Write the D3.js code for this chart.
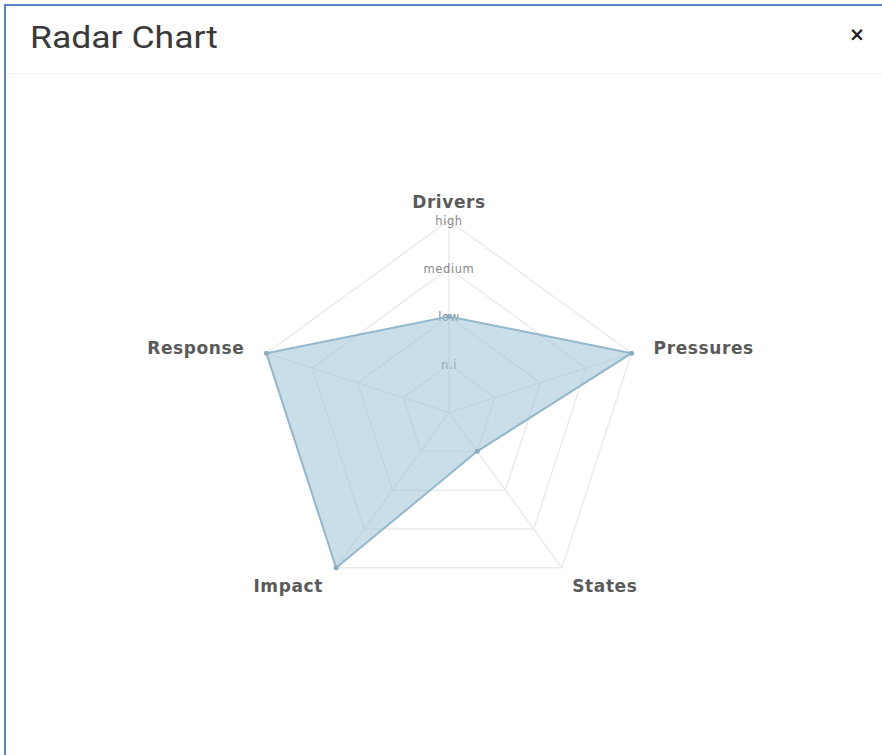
<!DOCTYPE html>
<html>
<head>
<meta charset="utf-8">
<script src="https://cdn.jsdelivr.net/npm/d3@7"></script>
<style>
  html, body { margin: 0; padding: 0; background: #fff; }
  svg { display: block; }
</style>
</head>
<body>
<svg id="chart" width="882" height="755"></svg>
<script>
// ---- data ----
const axes = ["Drivers", "Pressures", "States", "Impact", "Response"];
const values = [2, 4, 1, 4, 4];
const levelLabels = ["n.i", "low", "medium", "high"];
const levelValues = [1, 2, 3, 4];
const title = "Radar Chart";

const svg = d3.select("#chart");
const W = 882, H = 755;

// ---- modal frame ----
svg.append("rect").attr("x", 0).attr("y", 0).attr("width", W).attr("height", H).attr("fill", "#fff");
svg.append("line").attr("x1", 5).attr("x2", 5).attr("y1", 4).attr("y2", H)
  .attr("stroke", "#5b84c6").attr("stroke-width", 2);
svg.append("line").attr("x1", 4).attr("x2", W).attr("y1", 5).attr("y2", 5)
  .attr("stroke", "#5b84c6").attr("stroke-width", 2);
svg.append("line").attr("x1", 6).attr("x2", W).attr("y1", 73.5).attr("y2", 73.5)
  .attr("stroke", "#eeeeee").attr("stroke-width", 1);
svg.append("text").attr("x", 30).attr("y", 48)
  .attr("font-family", "Roboto, sans-serif").attr("font-size", 31).attr("font-weight", 400)
  .attr("textLength", 188).attr("lengthAdjust", "spacingAndGlyphs")
  .attr("fill", "#3a3a3a").text(title);
svg.append("text").attr("x", 857).attr("y", 41).attr("text-anchor", "middle")
  .attr("font-family", "DejaVu Sans, sans-serif").attr("font-size", 19).attr("font-weight", 700)
  .attr("fill", "#222").text("\u00d7");

// ---- radar ----
const cx = 449, cy = 412.5;
const maxV = d3.max(levelValues);
const r = d3.scaleLinear().domain([0, maxV]).range([0, 192]);
const angle = d3.scaleLinear().domain([0, axes.length]).range([0, 2 * Math.PI]);
const pt = (i, v) => [cx + r(v) * Math.sin(angle(i)), cy - r(v) * Math.cos(angle(i))];

const g = svg.append("g");

// grid pentagons
const gridLine = d3.line().curve(d3.curveLinearClosed);
levelValues.forEach(lv => {
  g.append("path")
    .attr("d", gridLine(axes.map((a, i) => pt(i, lv))))
    .attr("fill", "none").attr("stroke", "#ebebeb").attr("stroke-width", 1.5);
});
// spokes
axes.forEach((a, i) => {
  const [x, y] = pt(i, maxV);
  g.append("line").attr("x1", cx).attr("y1", cy).attr("x2", x).attr("y2", y)
    .attr("stroke", "#ebebeb").attr("stroke-width", 1.5);
});

// level labels on first axis
levelValues.forEach((lv, k) => {
  const [x, y] = pt(0, lv);
  g.append("text").attr("x", x).attr("y", y).attr("dy", "0.4em")
    .attr("text-anchor", "middle")
    .attr("font-family", "DejaVu Sans, sans-serif").attr("font-size", 11.5)
    .attr("letter-spacing", 0.6)
    .attr("fill", "#888").text(levelLabels[k]);
});

// axis labels
axes.forEach((a, i) => {
  const [x, y] = pt(i, maxV);
  const s = Math.sin(angle(i)), c = Math.cos(angle(i));
  let tx = x, ty = y, anchor = "middle";
  if (Math.abs(s) < 0.1) { ty = y - 13; }
  else if (c > 0) { anchor = s > 0 ? "start" : "end"; tx = x + (s > 0 ? 22 : -22); ty = y + 1; }
  else { tx = x + (s > 0 ? 43 : -48); ty = y + 24; }
  g.append("text").attr("x", tx).attr("y", ty).attr("text-anchor", anchor)
    .attr("font-family", "DejaVu Sans, sans-serif").attr("font-size", 17).attr("font-weight", 700)
    .attr("letter-spacing", 0.6)
    .attr("fill", "#5a5a5a").text(a);
});

// data polygon
const radial = d3.lineRadial()
  .angle((d, i) => angle(i))
  .radius(d => r(d))
  .curve(d3.curveLinearClosed);
g.append("path")
  .attr("transform", `translate(${cx},${cy})`)
  .attr("d", radial(values))
  .attr("fill", "#9cc2d6").attr("fill-opacity", 0.55)
  .attr("stroke", "#93b8cb").attr("stroke-width", 2);

g.selectAll("circle.pt").data(values).join("circle")
  .attr("class", "pt")
  .attr("cx", (d, i) => pt(i, d)[0])
  .attr("cy", (d, i) => pt(i, d)[1])
  .attr("r", 2.5)
  .attr("fill", "#8aaec0");
</script>
</body>
</html>
